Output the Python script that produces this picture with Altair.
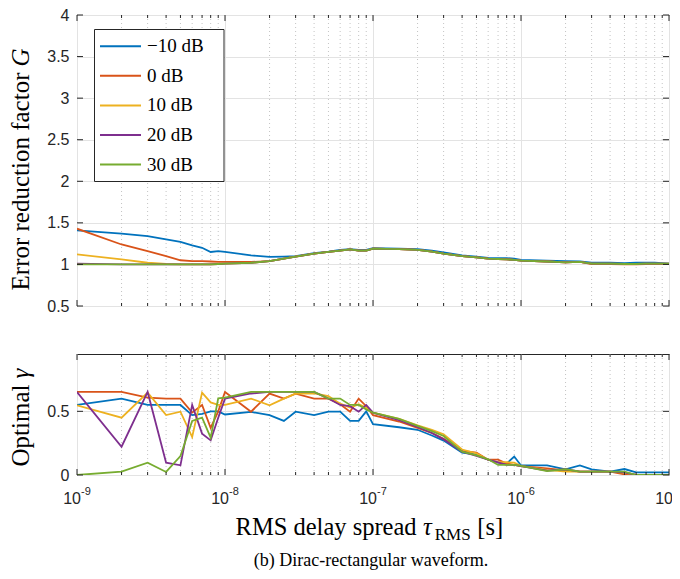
import altair as alt
import pandas as pd

# ---------------- data ----------------
tau = [1e-9, 2e-9, 3e-9, 4e-9, 5e-9, 6e-9, 7e-9, 8e-9, 9e-9,
       1e-8, 1.5e-8, 2e-8, 2.5e-8, 3e-8, 4e-8, 5e-8, 6e-8, 7e-8, 8e-8, 9e-8,
       1e-7, 1.5e-7, 2e-7, 2.5e-7, 3e-7, 4e-7, 5e-7, 6e-7, 7e-7, 8e-7, 9e-7,
       1e-6, 1.5e-6, 2e-6, 2.5e-6, 3e-6, 4e-6, 5e-6, 6e-6, 7e-6, 8e-6, 9e-6,
       1e-5]

series_names = ["\u221210 dB", "0 dB", "10 dB", "20 dB", "30 dB"]
series_colors = ["#0072BD", "#D95319", "#EDB120", "#7E2F8E", "#77AC30"]

G_m10 = [1.41, 1.37, 1.34, 1.30, 1.27, 1.23, 1.20, 1.15, 1.16,
         1.15, 1.11, 1.09, 1.095, 1.10, 1.135, 1.155, 1.175, 1.185, 1.175, 1.175,
         1.195, 1.19, 1.185, 1.165, 1.145, 1.11, 1.095, 1.08, 1.075, 1.075, 1.07,
         1.055, 1.045, 1.04, 1.035, 1.02, 1.02, 1.015, 1.02, 1.02, 1.02, 1.015,
         1.01]
G_0 = [1.43, 1.24, 1.16, 1.10, 1.05, 1.04, 1.04, 1.035, 1.03,
       1.03, 1.03, 1.04, 1.07, 1.095, 1.13, 1.15, 1.165, 1.18, 1.165, 1.165,
       1.19, 1.185, 1.175, 1.155, 1.13, 1.10, 1.085, 1.07, 1.065, 1.06, 1.055,
       1.045, 1.035, 1.025, 1.03, 1.005, 1.005, 1.0, 1.0, 1.005, 1.005, 1.005,
       1.005]
G_10 = [1.12, 1.06, 1.02, 1.005, 1.0, 1.0, 1.0, 1.0, 1.005,
        1.01, 1.02, 1.04, 1.07, 1.095, 1.13, 1.15, 1.165, 1.18, 1.165, 1.165,
        1.19, 1.185, 1.175, 1.155, 1.13, 1.10, 1.085, 1.07, 1.065, 1.06, 1.055,
        1.045, 1.035, 1.025, 1.03, 1.01, 1.01, 1.005, 1.005, 1.01, 1.01, 1.01,
        1.01]
G_20 = [1.01, 1.0, 1.0, 1.0, 1.0, 1.0, 1.0, 1.0, 1.005,
        1.01, 1.02, 1.04, 1.07, 1.095, 1.13, 1.15, 1.165, 1.18, 1.165, 1.165,
        1.19, 1.185, 1.175, 1.155, 1.13, 1.10, 1.085, 1.07, 1.065, 1.06, 1.055,
        1.045, 1.035, 1.025, 1.03, 1.01, 1.01, 1.005, 1.005, 1.01, 1.01, 1.01,
        1.01]
G_30 = [1.0, 1.0, 1.0, 1.0, 1.0, 1.0, 1.0, 1.0, 1.005,
        1.01, 1.02, 1.04, 1.07, 1.095, 1.13, 1.15, 1.165, 1.18, 1.165, 1.165,
        1.19, 1.185, 1.175, 1.155, 1.13, 1.10, 1.085, 1.07, 1.065, 1.06, 1.055,
        1.045, 1.035, 1.025, 1.03, 1.01, 1.01, 1.005, 1.005, 1.01, 1.01, 1.01,
        1.01]

gamma_m10 = [0.55, 0.60, 0.55, 0.55, 0.55, 0.47, 0.48, 0.50, 0.50,
             0.475, 0.495, 0.47, 0.425, 0.497, 0.47, 0.497, 0.497, 0.425, 0.425, 0.50,
             0.40, 0.375, 0.355, 0.31, 0.27, 0.175, 0.16, 0.12, 0.097, 0.09, 0.145,
             0.075, 0.075, 0.045, 0.075, 0.045, 0.026, 0.047, 0.02, 0.02, 0.02, 0.02,
             0.02]
gamma_0 = [0.652, 0.652, 0.607, 0.60, 0.60, 0.49, 0.55, 0.37, 0.50,
           0.652, 0.497, 0.639, 0.60, 0.639, 0.60, 0.60, 0.555, 0.497, 0.60, 0.54,
           0.47, 0.42, 0.37, 0.33, 0.285, 0.19, 0.175, 0.12, 0.12, 0.09, 0.08,
           0.07, 0.052, 0.037, 0.026, 0.026, 0.026, 0.005, 0.0, 0.0, 0.0, 0.0,
           0.0]
gamma_10 = [0.547, 0.45, 0.647, 0.471, 0.497, 0.298, 0.647, 0.57, 0.55,
            0.55, 0.60, 0.547, 0.60, 0.639, 0.64, 0.62, 0.56, 0.53, 0.555, 0.53,
            0.49, 0.44, 0.39, 0.355, 0.32, 0.20, 0.17, 0.12, 0.10, 0.10, 0.097,
            0.07, 0.04, 0.026, 0.026, 0.026, 0.026, 0.018, 0.0, 0.0, 0.0, 0.0,
            0.0]
gamma_20 = [0.652, 0.222, 0.652, 0.097, 0.076, 0.55, 0.325, 0.272, 0.45,
            0.60, 0.64, 0.652, 0.652, 0.652, 0.652, 0.60, 0.55, 0.54, 0.497, 0.55,
            0.49, 0.43, 0.377, 0.33, 0.28, 0.183, 0.15, 0.12, 0.10, 0.08, 0.079,
            0.07, 0.035, 0.045, 0.026, 0.026, 0.026, 0.02, 0.0, 0.0, 0.0, 0.0,
            0.0]
gamma_30 = [0.0, 0.026, 0.097, 0.024, 0.149, 0.424, 0.45, 0.293, 0.602,
            0.607, 0.652, 0.652, 0.652, 0.652, 0.652, 0.60, 0.60, 0.55, 0.55, 0.515,
            0.49, 0.44, 0.385, 0.345, 0.306, 0.183, 0.154, 0.123, 0.079, 0.079, 0.079,
            0.071, 0.031, 0.045, 0.026, 0.026, 0.026, 0.026, 0.0, 0.0, 0.0, 0.0,
            0.0]

x_major = [1e-9, 1e-8, 1e-7, 1e-6, 1e-5]
x_exp = ["-9", "-8", "-7", "-6", "-5"]
x_minor = [2e-9, 3e-9, 4e-9, 5e-9, 6e-9, 7e-9, 8e-9, 9e-9,
           2e-8, 3e-8, 4e-8, 5e-8, 6e-8, 7e-8, 8e-8, 9e-8,
           2e-7, 3e-7, 4e-7, 5e-7, 6e-7, 7e-7, 8e-7, 9e-7,
           2e-6, 3e-6, 4e-6, 5e-6, 6e-6, 7e-6, 8e-6, 9e-6]
G_ticks = [0.5, 1, 1.5, 2, 2.5, 3, 3.5, 4]
gamma_ticks = [0, 0.5]

# ---------------- tables ----------------
G_all = [G_m10, G_0, G_10, G_20, G_30]
gamma_all = [gamma_m10, gamma_0, gamma_10, gamma_20, gamma_30]
rows = []
for name, gs, gms in zip(series_names, G_all, gamma_all):
    for t, g, gm in zip(tau, gs, gms):
        rows.append({"tau": t, "G": g, "gamma": gm, "series": name})
df = pd.DataFrame(rows)
df_major = pd.DataFrame({"tau": x_major, "base": ["10"] * len(x_major), "exp": x_exp})
df_minor = pd.DataFrame({"tau": x_minor})
df_Gt = pd.DataFrame({"G": G_ticks})
df_gt = pd.DataFrame({"gamma": gamma_ticks})
df_one = pd.DataFrame({"k": [0]})

# ---------------- style ----------------
W, H1, H2 = 592, 291, 121
AX = "#262626"
GRID = "#e3e3e3"
MINOR = "#c4c4c4"
SANS = "Liberation Sans"
SERIF = "Liberation Serif"
TFS = 25  # title font size

xscale = alt.Scale(type="log", domain=[1e-9, 1e-5], nice=False)
x_axis = alt.Axis(values=x_major, grid=True, gridColor=GRID, labels=False,
                  ticks=False, domain=False, title=None)
X = alt.X("tau:Q", scale=xscale, axis=x_axis)

cscale = alt.Scale(domain=series_names, range=series_colors)


def y_enc(field, domain, ticks):
    return alt.Y(f"{field}:Q", scale=alt.Scale(domain=domain, nice=False, zero=False),
                 axis=alt.Axis(values=ticks, format="~g", grid=True, gridColor=GRID,
                               ticks=False, domain=False, labelFont=SANS, labelFontSize=16,
                               labelColor=AX, labelPadding=8, labelFlush=False,
                               labelOverlap=False, title=None))


def frame_layers(H, Y, df_yt):
    minor_grid = alt.Chart(df_minor).mark_rule(strokeDash=[1, 3], color=MINOR, strokeWidth=1).encode(
        x=X, y=alt.value(0), y2=alt.value(H))
    bt_major = alt.Chart(df_major).mark_rule(color=AX, strokeWidth=1).encode(
        x=X, y=alt.value(H), y2=alt.value(H - 6))
    bt_minor = alt.Chart(df_minor).mark_rule(color=AX, strokeWidth=1).encode(
        x=X, y=alt.value(H), y2=alt.value(H - 3))
    tp_major = alt.Chart(df_major).mark_rule(color=AX, strokeWidth=1).encode(
        x=X, y=alt.value(0), y2=alt.value(6))
    tp_minor = alt.Chart(df_minor).mark_rule(color=AX, strokeWidth=1).encode(
        x=X, y=alt.value(0), y2=alt.value(3))
    lf = alt.Chart(df_yt).mark_rule(color=AX, strokeWidth=1).encode(
        y=Y, x=alt.value(0), x2=alt.value(6))
    rt = alt.Chart(df_yt).mark_rule(color=AX, strokeWidth=1).encode(
        y=Y, x=alt.value(W), x2=alt.value(W - 6))
    return minor_grid, [bt_major, bt_minor, tp_major, tp_minor, lf, rt]


def text_piece(txt, x, y, size, align="left", angle=0, style="normal", baseline="alphabetic"):
    return alt.Chart(df_one).mark_text(font=SERIF, fontSize=size, align=align, angle=angle,
                                       fontStyle=style, baseline=baseline, color="black").encode(
        x=alt.value(x), y=alt.value(y), text=alt.value(txt))


# ---------------- legend (box, line samples, labels) ----------------
legend_layers = [alt.Chart(df_one).mark_rect(fill="white", stroke=AX, strokeWidth=1).encode(
    x=alt.value(17.5), x2=alt.value(147), y=alt.value(14.5), y2=alt.value(166.5))]
for i, (name, col) in enumerate(zip(series_names, series_colors)):
    yy = 31.2 + 29.6 * i
    legend_layers.append(alt.Chart(df_one).mark_rule(color=col, strokeWidth=2).encode(
        x=alt.value(23), x2=alt.value(64), y=alt.value(yy)))
    legend_layers.append(text_piece(name, 70, yy, 19, baseline="middle"))

# ---------------- top panel ----------------
Y1 = y_enc("G", [0.5, 4], G_ticks)
mg1, ticks1 = frame_layers(H1, Y1, df_Gt)
lines1 = alt.Chart(df).mark_line(strokeWidth=1.8, clip=True).encode(
    x=X, y=Y1, color=alt.Color("series:N", scale=cscale, sort=series_names, legend=None))
yt1a = text_piece("Error reduction factor", -56, 57.5, TFS, align="right", angle=270, baseline="middle")
yt1b = text_piece("G", -56, 51.5, TFS, align="left", angle=270, style="italic", baseline="middle")
top = alt.layer(mg1, lines1, *ticks1, *legend_layers, yt1a, yt1b).properties(width=W, height=H1)

# ---------------- bottom panel ----------------
Y2 = y_enc("gamma", [0, 0.95], gamma_ticks)
mg2, ticks2 = frame_layers(H2, Y2, df_gt)
lines2 = alt.Chart(df).mark_line(strokeWidth=1.8, clip=True).encode(
    x=X, y=Y2, color=alt.Color("series:N", scale=cscale, sort=series_names, legend=None))
lab_base = alt.Chart(df_major).mark_text(font=SANS, fontSize=16, align="right", dx=4,
                                         baseline="alphabetic", color=AX).encode(
    x=X, y=alt.value(H2 + 29), text="base:N")
lab_exp = alt.Chart(df_major).mark_text(font=SANS, fontSize=11, align="left", dx=4,
                                        baseline="alphabetic", color=AX).encode(
    x=X, y=alt.value(H2 + 20), text="exp:N")
xt_a = text_piece("RMS delay spread", 339.6, H2 + 60, 24.5, align="right")
xt_b = text_piece("\u03c4", 346, H2 + 60, 24.5, style="italic")
xt_c = text_piece("RMS", 357.7, H2 + 65, 17)
xt_d = text_piece("[s]", 400.3, H2 + 60, 24.5)
cap = text_piece("(b) Dirac-rectangular waveform.", 294, H2 + 91, 18, align="center")
yt2a = text_piece("Optimal", -56, 30.5, TFS, align="right", angle=270, baseline="middle")
yt2b = text_piece("\u03b3", -56, 24.5, TFS, align="left", angle=270, style="italic", baseline="middle")
bottom = alt.layer(mg2, lines2, *ticks2, lab_base, lab_exp, xt_a, xt_b, xt_c, xt_d, cap,
                   yt2a, yt2b).properties(width=W, height=H2)

chart = alt.vconcat(top, bottom, spacing=38).configure_view(
    stroke=AX, strokeWidth=1).properties(
    padding={"left": 0, "top": -2, "right": -12, "bottom": 0}, background="white")

chart.save("out.html", embed_options={"renderer": "svg", "actions": False})
